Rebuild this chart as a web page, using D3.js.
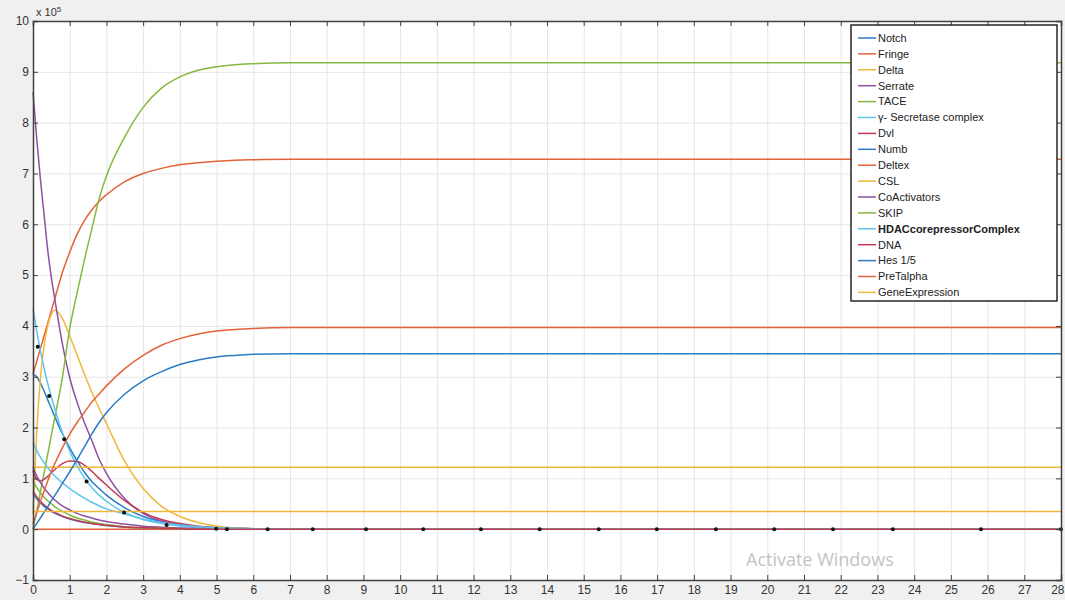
<!DOCTYPE html>
<html>
<head>
<meta charset="utf-8">
<script src="https://cdn.jsdelivr.net/npm/d3@7/dist/d3.min.js"></script>
<style>
  body { margin: 0; background: #f0f0f0; }
  svg { display: block; font-family: "Liberation Sans", Arial, sans-serif; }
  .tick text { font-size: 12px; fill: #333; }
  .grid line { stroke: #e6e6e6; }
  .grid path { display: none; }
</style>
</head>
<body>
<div id="chart"></div>
<script>
// time points of the simulation (x axis)
var tGrid = [0, 0.1, 0.2, 0.3, 0.4, 0.5, 0.6, 0.8, 1.0, 1.2, 1.4, 1.6, 1.8, 2.0, 2.5, 3.0, 3.5, 4.0, 4.5, 5.0, 5.5, 6.0, 7, 8, 10, 14, 20, 28];

// series values, in units of 10^5
var notch = [3.05, 3.0, 2.88, 2.72, 2.55, 2.38, 2.2, 1.88, 1.6, 1.35, 1.12, 0.94, 0.8, 0.67, 0.42, 0.25, 0.15, 0.09, 0.05, 0.03, 0.02, 0.01, 0, 0, 0, 0, 0, 0];
var fringe = [3.05, 3.3, 3.55, 3.8, 4.05, 4.3, 4.55, 5.05, 5.45, 5.8, 6.07, 6.28, 6.45, 6.58, 6.84, 7.0, 7.1, 7.17, 7.21, 7.24, 7.26, 7.27, 7.28, 7.28, 7.28, 7.28, 7.28, 7.28];
var delta = [0.3, 1.9, 2.95, 3.6, 4.0, 4.23, 4.31, 4.15, 3.8, 3.43, 3.05, 2.7, 2.38, 2.08, 1.33, 0.8, 0.45, 0.25, 0.13, 0.06, 0.03, 0.01, 0, 0, 0, 0, 0, 0];
var serrate = [8.6, 7.7, 6.9, 6.2, 5.5, 4.95, 4.5, 3.65, 2.98, 2.5, 2.1, 1.75, 1.38, 1.1, 0.6, 0.31, 0.16, 0.08, 0.04, 0.02, 0.01, 0, 0, 0, 0, 0, 0, 0];
var tace = [0, 0.35, 0.72, 1.1, 1.47, 1.85, 2.22, 2.98, 3.95, 4.65, 5.3, 5.9, 6.5, 6.95, 7.72, 8.3, 8.68, 8.9, 9.03, 9.1, 9.14, 9.16, 9.18, 9.18, 9.18, 9.18, 9.18, 9.18];
var secretase = [4.35, 3.9, 3.52, 3.18, 2.87, 2.6, 2.35, 1.9, 1.54, 1.25, 1.01, 0.82, 0.67, 0.55, 0.33, 0.19, 0.11, 0.065, 0.04, 0.02, 0.01, 0.005, 0, 0, 0, 0, 0, 0];
var dvl = [1.15, 0.98, 0.95, 0.98, 1.04, 1.11, 1.18, 1.29, 1.34, 1.33, 1.26, 1.14, 1.0, 0.87, 0.56, 0.33, 0.19, 0.11, 0.06, 0.03, 0.015, 0.01, 0, 0, 0, 0, 0, 0];
var numb = [0.7, 0.6, 0.52, 0.45, 0.4, 0.35, 0.31, 0.25, 0.2, 0.16, 0.13, 0.11, 0.09, 0.07, 0.04, 0.02, 0.01, 0, 0, 0, 0, 0, 0, 0, 0, 0, 0, 0];
var deltex = [0, 0, 0, 0, 0, 0, 0, 0, 0, 0, 0, 0, 0, 0, 0, 0, 0, 0, 0, 0, 0, 0, 0, 0, 0, 0, 0, 0];
var csl = [1.22, 1.22, 1.22, 1.22, 1.22, 1.22, 1.22, 1.22, 1.22, 1.22, 1.22, 1.22, 1.22, 1.22, 1.22, 1.22, 1.22, 1.22, 1.22, 1.22, 1.22, 1.22, 1.22, 1.22, 1.22, 1.22, 1.22, 1.22];
var coActivators = [1.22, 1.05, 0.92, 0.81, 0.72, 0.64, 0.57, 0.46, 0.38, 0.31, 0.26, 0.22, 0.18, 0.15, 0.1, 0.06, 0.04, 0.025, 0.015, 0.01, 0.005, 0, 0, 0, 0, 0, 0, 0];
var skip = [0.95, 0.82, 0.72, 0.63, 0.56, 0.5, 0.44, 0.35, 0.28, 0.22, 0.18, 0.14, 0.11, 0.09, 0.05, 0.03, 0.02, 0.01, 0, 0, 0, 0, 0, 0, 0, 0, 0, 0];
var hdac = [1.7, 1.55, 1.42, 1.31, 1.21, 1.12, 1.04, 0.91, 0.8, 0.7, 0.61, 0.53, 0.46, 0.4, 0.3, 0.2, 0.13, 0.08, 0.05, 0.03, 0.02, 0.01, 0, 0, 0, 0, 0, 0];
var dna = [0.75, 0.64, 0.55, 0.48, 0.42, 0.37, 0.33, 0.26, 0.21, 0.17, 0.14, 0.11, 0.09, 0.075, 0.045, 0.03, 0.02, 0.01, 0, 0, 0, 0, 0, 0, 0, 0, 0, 0];
var hes = [0, 0.11, 0.22, 0.33, 0.44, 0.56, 0.67, 0.9, 1.13, 1.37, 1.62, 1.87, 2.1, 2.29, 2.66, 2.92, 3.1, 3.24, 3.33, 3.39, 3.42, 3.44, 3.45, 3.45, 3.45, 3.45, 3.45, 3.45];
var preTalpha = [0.1, 0.32, 0.54, 0.75, 0.95, 1.14, 1.3, 1.6, 1.87, 2.1, 2.3, 2.5, 2.66, 2.82, 3.16, 3.42, 3.62, 3.75, 3.84, 3.9, 3.93, 3.95, 3.97, 3.97, 3.97, 3.97, 3.97, 3.97];
var geneExpression = [0.35, 0.35, 0.35, 0.35, 0.35, 0.35, 0.35, 0.35, 0.35, 0.35, 0.35, 0.35, 0.35, 0.35, 0.35, 0.35, 0.35, 0.35, 0.35, 0.35, 0.35, 0.35, 0.35, 0.35, 0.35, 0.35, 0.35, 0.35];

var seriesNames = ["Notch", "Fringe", "Delta", "Serrate", "TACE", "\u03b3- Secretase complex", "Dvl", "Numb", "Deltex", "CSL", "CoActivators", "SKIP", "HDACcorepressorComplex", "DNA", "Hes 1/5", "PreTalpha", "GeneExpression"];
var seriesValues = [notch, fringe, delta, serrate, tace, secretase, dvl, numb, deltex, csl, coActivators, skip, hdac, dna, hes, preTalpha, geneExpression];

// solver step markers (black dots)
var markerT = [0.13, 0.44, 0.85, 1.46, 2.48, 3.64, 4.99, 5.28, 6.39, 7.62, 9.07, 10.63, 12.2, 13.8, 15.41, 16.99, 18.6, 20.19, 21.79, 23.42, 25.82, 28];
var markerV = [3.59, 2.62, 1.77, 0.94, 0.33, 0.08, 0.01, 0, 0, 0, 0, 0, 0, 0, 0, 0, 0, 0, 0, 0, 0, 0];

var xTicks = d3.range(0, 29);
var yTicks = d3.range(-1, 11);

// matlab style colour order
var colorOrder = ["#2a7cc4", "#e4623a", "#efb83a", "#8e4fa2", "#86b83e", "#5cc4ee", "#c03a55"];

var svgWidth = 1065;
var svgHeight = 600;
var margin = { top: 21, right: 4, bottom: 20, left: 33 };
var width = svgWidth - margin.left - margin.right;
var height = svgHeight - margin.top - margin.bottom;

var svg = d3.select("#chart")
  .append("svg")
  .attr("width", svgWidth)
  .attr("height", svgHeight);

svg.append("rect")
  .attr("width", svgWidth)
  .attr("height", svgHeight)
  .attr("fill", "#f0f0f0");

var chartGroup = svg.append("g")
  .attr("transform", `translate(${margin.left}, ${margin.top})`);

var xScale = d3.scaleLinear().domain([0, 28]).range([0, width]);
var yScale = d3.scaleLinear().domain([-1, 10]).range([height, 0]);

chartGroup.append("rect")
  .attr("width", width)
  .attr("height", height)
  .attr("fill", "#fff");

// grid
chartGroup.append("g")
  .attr("class", "grid")
  .attr("transform", `translate(0, ${height})`)
  .call(d3.axisBottom(xScale).tickValues(xTicks).tickSize(-height).tickFormat(""));
chartGroup.append("g")
  .attr("class", "grid")
  .call(d3.axisLeft(yScale).tickValues(yTicks).tickSize(-width).tickFormat(""));

// lines
var line = d3.line()
  .x(d => xScale(d.t))
  .y(d => yScale(d.v))
  .curve(d3.curveMonotoneX);

var plotArea = chartGroup.append("g");
seriesValues.forEach(function(vals, i) {
  var pts = tGrid.map((t, j) => ({ t: t, v: vals[j] }));
  plotArea.append("path")
    .datum(pts)
    .attr("fill", "none")
    .attr("stroke", colorOrder[i % 7])
    .attr("stroke-width", 1.5)
    .attr("d", line);
});

plotArea.selectAll("circle")
  .data(markerT.map((t, j) => ({ t: t, v: markerV[j] })))
  .enter()
  .append("circle")
  .attr("cx", d => xScale(d.t))
  .attr("cy", d => yScale(d.v))
  .attr("r", 2)
  .attr("fill", "#111");

// axes, ticks point inward like matlab
var axisColor = "#404040";
var bottomAxis = chartGroup.append("g")
  .attr("transform", `translate(0, ${height})`)
  .call(d3.axisBottom(xScale).tickValues(xTicks).tickSize(-5).tickPadding(5).tickFormat(d3.format("d")));
var leftAxis = chartGroup.append("g")
  .call(d3.axisLeft(yScale).tickValues(yTicks).tickSize(-5).tickPadding(4).tickFormat(d3.format("d")));
var topAxis = chartGroup.append("g")
  .call(d3.axisTop(xScale).tickValues(xTicks).tickSize(-5).tickFormat(""));
var rightAxis = chartGroup.append("g")
  .attr("transform", `translate(${width}, 0)`)
  .call(d3.axisRight(yScale).tickValues(yTicks).tickSize(-5).tickFormat(""));

[bottomAxis, leftAxis, topAxis, rightAxis].forEach(function(a) {
  a.selectAll("path").attr("stroke", axisColor).attr("stroke-width", 1.5);
  a.selectAll("line").attr("stroke", axisColor);
});

// last x label sits at the window edge
bottomAxis.selectAll(".tick text")
  .filter(d => d === 28)
  .attr("text-anchor", "end")
  .attr("dx", 3);

// exponent label
var expLabel = chartGroup.append("text")
  .attr("x", 3)
  .attr("y", -5)
  .attr("font-size", 11)
  .attr("fill", "#333")
  .text("x 10");
expLabel.append("tspan")
  .attr("dy", -4)
  .attr("font-size", 8)
  .text("5");

// legend
var legend = chartGroup.append("g")
  .attr("transform", `translate(${851 - margin.left}, ${25 - margin.top})`);
legend.append("rect")
  .attr("width", 206)
  .attr("height", 276)
  .attr("fill", "#fff")
  .attr("stroke", "#262626")
  .attr("stroke-width", 1.5);

var rowH = 15.9;
seriesNames.forEach(function(name, i) {
  var row = legend.append("g")
    .attr("transform", `translate(0, ${13 + i * rowH})`);
  row.append("line")
    .attr("x1", 7)
    .attr("x2", 25)
    .attr("stroke", colorOrder[i % 7])
    .attr("stroke-width", 1.5);
  row.append("text")
    .attr("x", 27)
    .attr("dy", "0.35em")
    .attr("font-size", 11)
    .attr("font-weight", name === "HDACcorepressorComplex" ? "bold" : "normal")
    .attr("fill", "#222")
    .text(name);
});

// desktop watermark seen in the screenshot
svg.append("text")
  .attr("x", 746)
  .attr("y", 566)
  .attr("font-size", 18)
  .attr("fill", "#c4c4c4")
  .attr("font-family", "'Open Sans', sans-serif")
  .text("Activate Windows");
</script>
</body>
</html>
